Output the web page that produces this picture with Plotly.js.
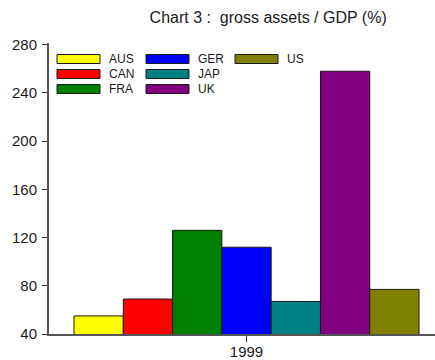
<!DOCTYPE html>
<html>
<head>
<meta charset="utf-8">
<script src="https://cdn.plot.ly/plotly-3.0.1.min.js"></script>
<style>
  html, body { margin: 0; padding: 0; background: #fff; }
  #chart { width: 435px; height: 360px; }
</style>
</head>
<body>
<div id="chart"></div>
<script>
// Gross assets as a share of GDP, 1999
const years = ['1999'];
const countries = ['AUS', 'CAN', 'FRA', 'GER', 'JAP', 'UK', 'US'];
const grossAssets = [55, 69, 126, 112, 67, 258, 77];
const colors = ['#ffff00', '#ff0000', '#008000', '#0000ff', '#008080', '#800080', '#808000'];
const yTicks = [40, 80, 120, 160, 200, 240, 280];

// page geometry (pixels)
const W = 435, H = 360;
const M = { l: 49, r: 0, t: 43, b: 26 };
const plotW = W - M.l - M.r, plotH = H - M.t - M.b;
const px2x = px => (px - M.l) / plotW;
const px2y = py => (H - M.b - py) / plotH;

const traces = countries.map((c, i) => ({
  type: 'bar',
  name: c,
  x: years,
  y: [grossAssets[i]],
  marker: { color: colors[i], line: { color: '#1a1a1a', width: 1 } },
  showlegend: false,
  hoverinfo: 'name+y'
}));

// legend: three columns, filled top to bottom
const shapes = [], annotations = [];
const rows = 3;
countries.forEach((c, i) => {
  const col = Math.floor(i / rows), row = i % rows;
  const x0 = 57 + col * 89, yc = 59 + row * 15;
  shapes.push({
    type: 'rect', xref: 'paper', yref: 'paper',
    x0: px2x(x0), x1: px2x(x0 + 43),
    y0: px2y(yc + 4.5), y1: px2y(yc - 4.5),
    fillcolor: colors[i], line: { color: '#1a1a1a', width: 1 }
  });
  annotations.push({
    xref: 'paper', yref: 'paper',
    x: px2x(x0 + 50), y: px2y(yc),
    xanchor: 'left', yanchor: 'middle',
    text: c, showarrow: false,
    font: { size: 12, color: '#1a1a1a' }
  });
});

const layout = {
  width: W, height: H,
  margin: M,
  paper_bgcolor: '#fff', plot_bgcolor: '#fff',
  font: { family: 'Liberation Sans, Arial, sans-serif', color: '#1a1a1a' },
  title: {
    text: 'Chart 3 :  gross assets / GDP (%)',
    font: { size: 16, color: '#1a1a1a' },
    x: 247 / W, xanchor: 'center', xref: 'paper',
    y: 1 - 17 / H, yanchor: 'middle', yref: 'container'
  },
  barmode: 'group',
  bargap: 0.2,
  bargroupgap: 0,
  xaxis: {
    type: 'category',
    range: [-0.458, 0.437],
    showline: true, linecolor: '#555', linewidth: 2,
    ticks: 'outside', ticklen: 6, tickcolor: '#333', tickwidth: 1,
    ticklabelstandoff: -3,
    showgrid: false, zeroline: false,
    tickfont: { size: 15 }
  },
  yaxis: {
    range: [40, 40 + plotH / 1.2054],
    tickvals: yTicks,
    showline: true, linecolor: '#555', linewidth: 2,
    ticks: 'outside', ticklen: 5, tickcolor: '#333', tickwidth: 1,
    ticklabelstandoff: 2,
    showgrid: false, zeroline: false,
    tickfont: { size: 15 }
  },
  shapes: shapes,
  annotations: annotations
};

Plotly.newPlot('chart', traces, layout, { staticPlot: true, displayModeBar: false });
</script>
</body>
</html>
